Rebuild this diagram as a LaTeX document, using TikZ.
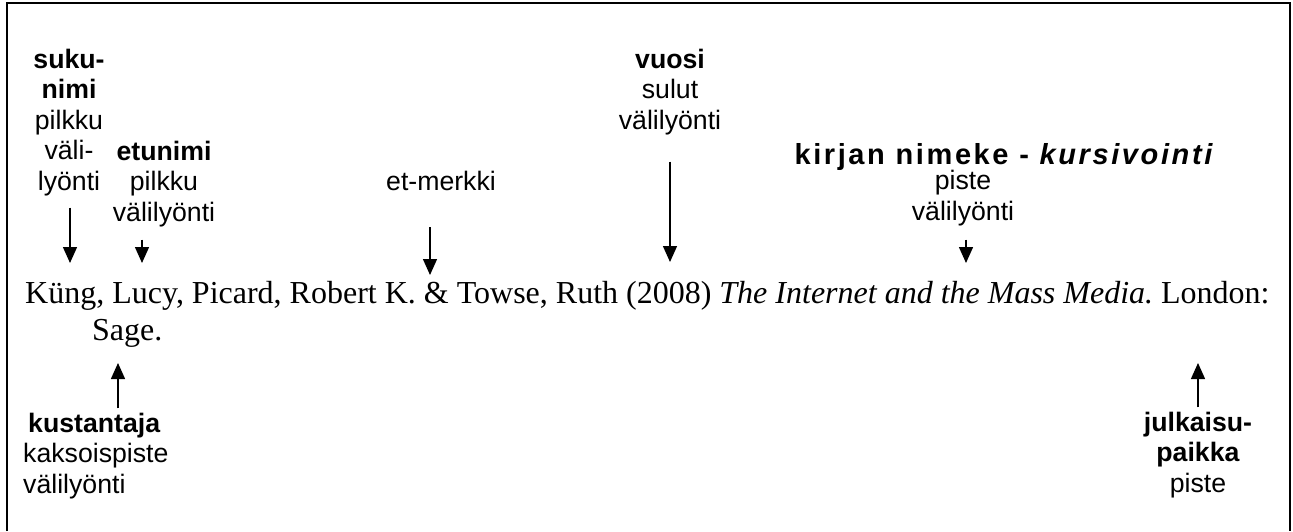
\documentclass[tikz,border=0pt]{standalone}
\usepackage{fontspec}
\setmainfont{Liberation Serif}
\newfontfamily\labelfont{Liberation Sans}
\usetikzlibrary{
    arrows.meta,
    positioning,
    calc
}
\tikzset{
    % Fonts
    ref font/.style={font=\fontsize{32}{36.8}\selectfont},
    label font/.style={font=\labelfont\fontsize{26.67}{30.5}\selectfont},
    %
    % Nodes
    reftext/.style={ref font,inner sep=0pt,anchor=base west},
    partlabel/.style={label font,inner sep=0pt,align=center,anchor=base},
    leftlabel/.style={partlabel,align=left,anchor=base west},
    %
    % Arrows
    arrow tip/.tip={Triangle[width=14pt,length=16pt]},
    arr/.style={->,>={arrow tip},line width=1.4pt},
    frame line/.style={line width=2pt}
}
\frenchspacing

\begin{document}
\begin{tikzpicture}[x=1pt,y=-1pt]
    \useasboundingbox (0,0) rectangle (1293,531);
    \draw[frame line] (7,531) -- (7,3) -- (1290,3) -- (1290,531);

    % the reference
    \node[reftext] (refline) at (25,303) {Küng, Lucy, Picard, Robert K. \& Towse, Ruth (2008) \textit{The Internet and the Mass Media.} London:};
    \node[reftext] (sage) at (92,340) {Sage.};

    % where the arrows point
    \coordinate (sukutip) at (70,263);
    \coordinate (etutip) at (142,263);
    \coordinate (amptip) at (430,275);
    \coordinate (yeartip) at (670,262);
    \coordinate (titletip) at (966,263);
    \coordinate (publishertip) at (118,363);
    \coordinate (placetip) at (1198,363);

    % labels above (placed at the baseline of their last line)
    \node[partlabel] (sukunimi) at (69,190) {\textbf{suku-}\\\textbf{nimi}\\pilkku\\väli-\\lyönti};
    \node[partlabel] (etunimi) at (164,221) {\textbf{etunimi}\\pilkku\\välilyönti};
    \node[partlabel] (etmerkki) at (441,190) {et-merkki};
    \node[partlabel] (vuosi) at (670,129) {\textbf{vuosi}\\sulut\\välilyönti};
    \node[partlabel,font=\labelfont\fontsize{29}{33}\selectfont] (nimeke) at (1005,164)
        {\addfontfeature{LetterSpace=9}\textbf{kirjan nimeke - \textit{kursivointi}}};
    \node[partlabel] (nimekesep) at (963,220) {piste\\välilyönti};

    % labels below
    \node[leftlabel] (kustantaja) at (23,493) {\hspace*{5pt}\textbf{kustantaja}\\kaksoispiste\\välilyönti};
    \node[partlabel] (julkaisu) at (1198,492) {\textbf{julkaisu-}\\\textbf{paikka}\\piste};

    \draw[arr,shorten <=12pt] (sukunimi.south -| sukutip) -- (sukutip);
    \draw[arr,shorten <=13pt] (etunimi.south -| etutip) -- (etutip);
    \draw[arr,shorten <=37pt] (etmerkki.south -| amptip) -- (amptip);
    \draw[arr,shorten <=27pt] (vuosi.south -| yeartip) -- (yeartip);
    \draw[arr,shorten <=14pt] (nimekesep.south -| titletip) -- (titletip);
    \draw[arr,shorten <=4pt] (kustantaja.north -| publishertip) -- (publishertip);
    \draw[arr,shorten <=4pt] (julkaisu.north -| placetip) -- (placetip);
\end{tikzpicture}
\end{document}
